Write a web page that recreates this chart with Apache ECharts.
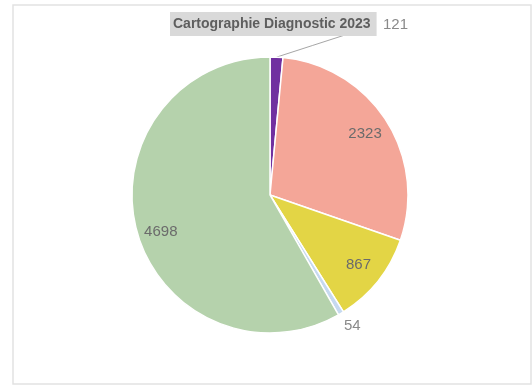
<!DOCTYPE html>
<html>
<head>
<meta charset="utf-8">
<script src="https://cdn.jsdelivr.net/npm/echarts@6/dist/echarts.min.js"></script>
<style>
    html, body { margin: 0; padding: 0; background: #fff; }
    #chart { width: 532px; height: 390px; }
</style>
</head>
<body>
<div id="chart"></div>
<script>
var titleText = 'Cartographie Diagnostic 2023';
var categories = ['Catégorie 1', 'Catégorie 2', 'Catégorie 3', 'Catégorie 4', 'Catégorie 5'];
var values = [121, 2323, 867, 54, 4698];
var colors = ['#7030a0', '#f4a698', '#e3d545', '#c6d9f0', '#b5d2ac'];
// which slices get their label outside the pie
var outsideLabel = [true, false, false, true, false];

var center = [270, 195];
var radius = 138;

var total = values.reduce(function (a, b) { return a + b; }, 0);

// edge point of the first slice, at its middle angle (start at 12 o'clock, clockwise)
var firstSliceEdge = function () {
    var a = (values[0] / 2) / total * Math.PI * 2;
    return [center[0] + radius * Math.sin(a), center[1] - radius * Math.cos(a)];
};

var buildData = function (inside) {
    return values.map(function (v, i) {
        var showIt = inside ? !outsideLabel[i] : outsideLabel[i];
        return {
            name: categories[i],
            value: v,
            itemStyle: inside ? { color: 'rgba(0,0,0,0)', borderWidth: 0 } : { color: colors[i] },
            label: { show: showIt },
            labelLine: { show: !inside && i === 0, length: 4, length2: 0 }
        };
    });
};

var myChart = echarts.init(document.getElementById('chart'));
var option = {
    backgroundColor: '#fff',
    animation: false,
    title: {
        text: titleText,
        left: 170,
        top: 12,
        padding: [5, 6, 5, 3],
        backgroundColor: '#d9d9d9',
        textStyle: {
            fontFamily: 'Liberation Sans',
            fontSize: 14,
            fontWeight: 'bold',
            color: '#5e5e5e'
        }
    },
    graphic: [{
        type: 'rect',
        shape: { x: 13, y: 5, width: 518, height: 379 },
        style: { fill: 'none', stroke: '#e2e2e2', lineWidth: 1.5 },
        silent: true
    }],
    series: [{
        type: 'pie',
        center: center,
        radius: [0, radius],
        startAngle: 90,
        clockwise: true,
        data: buildData(false),
        itemStyle: { borderColor: '#fff', borderWidth: 1.5 },
        label: {
            position: 'outside',
            formatter: '{c}',
            fontFamily: 'Liberation Sans',
            fontSize: 15,
            color: '#8a8a8a'
        },
        labelLine: {
            lineStyle: { color: '#a6a6a6', width: 1 }
        },
        labelLayout: function (params) {
            if (params.dataIndex === 0) {
                var p = firstSliceEdge();
                var end = [348, 34];
                return {
                    x: 383, y: 25, align: 'left', verticalAlign: 'middle',
                    labelLinePoints: [p, [(p[0] + end[0]) / 2, (p[1] + end[1]) / 2], end]
                };
            }
            if (params.dataIndex === 3) {
                return { x: 344, y: 326, align: 'left', verticalAlign: 'middle' };
            }
        },
        silent: true
    }, {
        type: 'pie',
        center: center,
        radius: [82, radius],
        startAngle: 90,
        clockwise: true,
        data: buildData(true),
        label: {
            position: 'inside',
            formatter: '{c}',
            fontFamily: 'Liberation Sans',
            fontSize: 15,
            color: '#6b6b6b'
        },
        labelLayout: function (params) {
            if (params.dataIndex === 4) {
                return { dy: 8 };
            }
        },
        silent: true
    }]
};
myChart.setOption(option);
</script>
</body>
</html>
